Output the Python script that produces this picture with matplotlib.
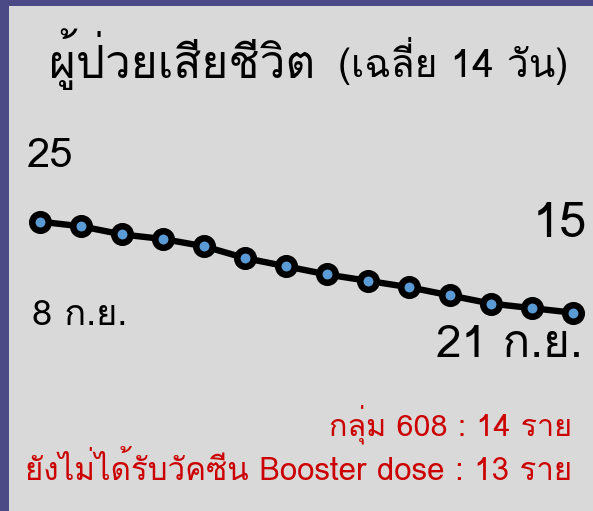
import matplotlib
matplotlib.use("Agg")
import matplotlib.pyplot as plt

plt.rcParams['font.family'] = ['Loma', 'DejaVu Sans']

# daily deaths, 14-day average (8 - 21 Sep)
days = list(range(8, 22))
deaths = [25.0, 24.5, 23.6, 23.1, 22.3, 21.0, 20.1, 19.2, 18.5, 17.8, 16.9, 16.0, 15.5, 15.0]
start_label = "8 ก.ย."
end_label = "21 ก.ย."
title_main = "ผู้ป่วยเสียชีวิต"
title_sub = "(เฉลี่ย 14 วัน)"
note_608 = "กลุ่ม 608 : 14 ราย"
note_booster = "ยังไม่ได้รับวัคซีน Booster dose : 13 ราย"

W, H = 593, 511
purple = '#4b4a87'
panel = '#d9d9d9'
red = '#cc0000'
blue = '#5b9bd5'

def fx(x):
    return x / W

def fy(y):
    return 1 - y / H

fig = plt.figure(figsize=(W / 100, H / 100), dpi=100, facecolor=purple)

# gray panel
bg = fig.add_axes([fx(9), 0, 1 - fx(9), fy(6)])
bg.set_facecolor(panel)
bg.set_xticks([])
bg.set_yticks([])
for s in bg.spines.values():
    s.set_visible(False)

# line chart
ax = fig.add_axes([fx(40), fy(312.7), fx(573) - fx(40), fy(221.7) - fy(312.7)])
ax.patch.set_alpha(0)
ax.plot(days, deaths, color='black', linewidth=4.6, marker='o', markersize=11.9,
        markerfacecolor=blue, markeredgecolor='black', markeredgewidth=4.7,
        clip_on=False, solid_joinstyle='round')
ax.set_xlim(days[0], days[-1])
ax.set_ylim(min(deaths), max(deaths))
ax.axis('off')

# titles
fig.text(fx(49), fy(78), title_main, fontsize=33, color='black', va='baseline', ha='left')
fig.text(fx(568), fy(77), title_sub, fontsize=28, color='black', va='baseline', ha='right')

# value labels
fig.text(fx(27), fy(167), f"{deaths[0]:.0f}", fontsize=30, va='baseline', ha='left')
fig.text(fx(587), fy(237), f"{deaths[-1]:.0f}", fontsize=35, va='baseline', ha='right')
fig.text(fx(32), fy(325), start_label, fontsize=26, va='baseline', ha='left')
fig.text(fx(583), fy(357), end_label, fontsize=33, va='baseline', ha='right')

# notes
fig.text(fx(572), fy(435), note_608, fontsize=22, color=red, va='baseline', ha='right')
fig.text(fx(572), fy(480), note_booster, fontsize=22.5, color=red, va='baseline', ha='right')

fig.savefig("out.png", dpi=100, facecolor=purple)
